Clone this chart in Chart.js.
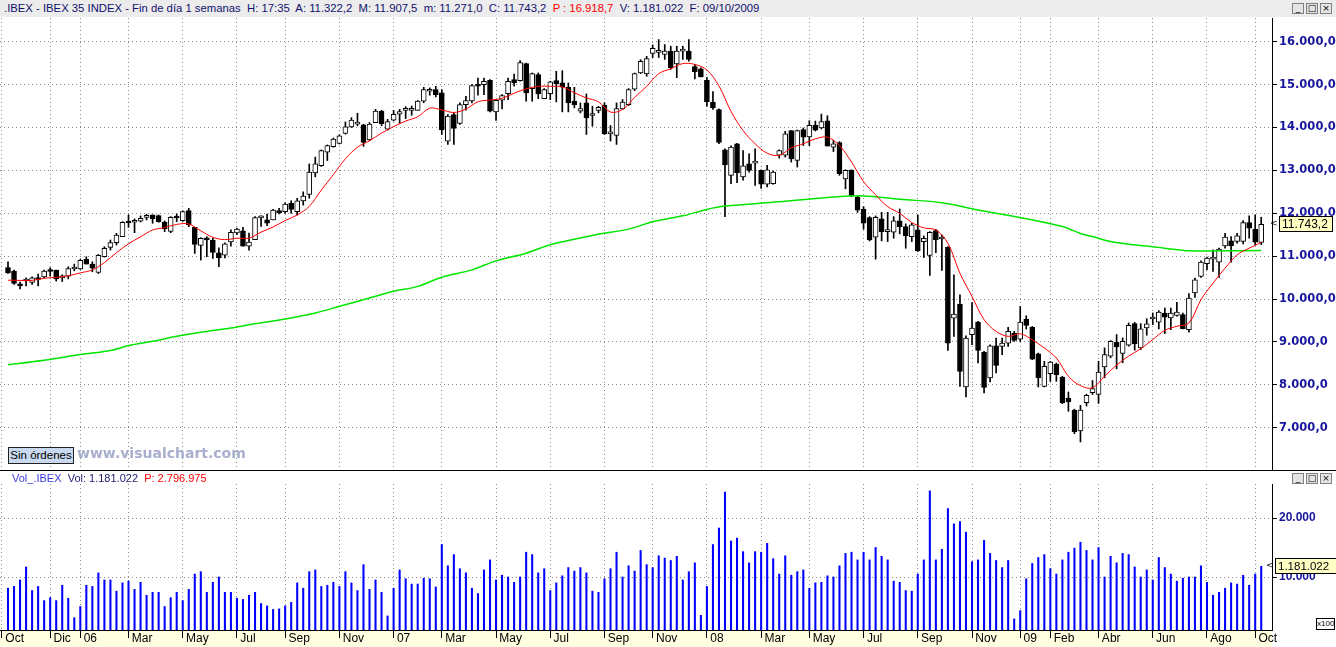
<!DOCTYPE html>
<html>
<head>
<meta charset="utf-8">
<title>IBEX 35 semanal</title>
<script src="https://cdn.jsdelivr.net/npm/chart.js"></script>
<style>
  body { margin: 0; background: #fff; font-family: "Liberation Sans", Arial, sans-serif; }
  #wrap { position: relative; width: 1336px; height: 647px; overflow: hidden; }
  canvas { position: absolute; left: 0; }
  #price { top: 18px; }
  #vol { top: 470px; }
  .txt { position: absolute; white-space: nowrap; font-size: 11px; }
  #head { left: 0; top: 0; width: 1336px; height: 17px; line-height: 17px; background: #ececec; color: #10106e; font-size: 11.3px; }
  #head span { margin-left: 4px; }
  .red { color: #ff0000; }
  .win { position: absolute; right: 4px; font-size: 0; }
  .win i { display: inline-block; width: 10px; height: 9px; margin-left: 2px; border: 1px solid #808080; background: #e4e4e4; font: 9px/9px "DejaVu Sans", sans-serif; font-style: normal; color: #000; text-align: center; }
  #sep { position: absolute; left: 0; top: 470px; width: 1336px; height: 1px; background: #000; }
  #orders { position: absolute; left: 8px; top: 447px; width: 64px; height: 15px; line-height: 15px; border: 1px solid #202020; background: #c9d9ef; font-size: 11.5px; text-align: center; color: #000; white-space: nowrap; }
  #mark { position: absolute; left: 77px; top: 445px; font: bold 14px "DejaVu Sans", sans-serif; color: #a7afcd; }
  #volhead { left: 12px; top: 472px; }
  #x100 { position: absolute; left: 1316px; top: 618px; width: 17px; height: 10px; border: 1px solid #000; background: #fff; font-size: 8px; line-height: 10px; text-align: center; }
</style>
</head>
<body>
<div id="wrap">
  <div id="head" class="txt"><span>.IBEX - IBEX 35 INDEX - Fin de día 1 semanas&nbsp; H: 17:35&nbsp; A: 11.322,2&nbsp; M: 11.907,5&nbsp; m: 11.271,0&nbsp; C: 11.743,2&nbsp; <b class="red" style="font-weight:normal">P : 16.918,7</b>&nbsp; V: 1.181.022&nbsp; F: 09/10/2009</span></div>
  <div class="win" style="top:3px"><i>_</i><i>□</i><i>×</i></div>
  <canvas id="price" width="1336" height="452"></canvas>
  <canvas id="vol" width="1336" height="177"></canvas>
  <div id="sep"></div>
  <div id="orders">Sin órdenes</div>
  <div id="mark">www.visualchart.com</div>
  <div id="volhead" class="txt"><span style="color:#3a3ad6">Vol_.IBEX</span>&nbsp; <span style="color:#1c1c72">Vol: 1.181.022</span>&nbsp; <span class="red">P: 2.796.975</span></div>
  <div class="win" style="top:473px"><i>_</i><i>□</i><i>×</i></div>
  <div id="x100">x100</div>
</div>

<script>
// IBEX 35 weekly candles, Oct 2005 - 09/10/2009
const open = [10736,10650,10330,10420,10386,10503,10518,10674,10674,10495,
  10533,10700,10705,10924,10815,10620,10986,11204,11314,11454,
  11820,11790,11813,11906,11961,11945,11797,11579,11900,11828,
  12062,11672,11251,11400,11376,11077,11023,11330,11540,11590,
  11230,11385,11890,11846,11846,12050,12040,12230,12040,12290,
  12440,12940,13108,13423,13554,13630,13860,14015,14077,14060,
  13710,14115,14385,13962,14170,14308,14400,14400,14400,14615,
  14846,14884,14806,13683,14303,14093,14535,14620,15000,15000,
  15100,14364,14636,14791,15116,15093,15488,14907,15233,14674,
  14790,15093,15039,14938,14613,14380,14574,14280,14396,14519,
  13850,13815,14434,14535,14891,15271,15248,15725,15750,15703,
  15780,15485,15780,15780,15420,15370,15100,14590,14420,13480,
  12885,13618,12846,13155,13170,13000,12676,12692,13355,13355,
  13927,13232,13950,13780,14050,13988,14158,13540,13650,12800,
  13000,12380,12100,11900,11440,11870,11573,11558,11822,11690,
  11457,11612,11340,11015,11597,11400,11208,9556,9882,7950,
  9168,9462,8764,8159,8912,8896,8974,9206,9067,9532,
  9338,8725,7965,8260,8484,8182,7693,7413,6924,7583,
  7815,7776,8420,8668,8993,8730,8924,9427,8862,9327,
  9535,9458,9675,9559,9621,9636,9288,10140,10527,10822,
  10930,10861,11240,11357,11341,11341,11783,11628,11322.2];
const high = [10869,10674,10393,10495,10518,10580,10674,10729,10674,10565,
  10752,10815,10924,10986,10869,11040,11220,11376,11532,11805,
  11961,11870,11938,11977,11961,11961,11820,11922,11984,12055,
  12117,11672,11430,11454,11415,11192,11308,11615,11654,11670,
  11540,11923,11940,11980,12090,12115,12246,12292,12350,12500,
  13150,13310,13477,13592,13754,13830,14130,14230,14330,14077,
  14115,14423,14400,14190,14400,14423,14485,14500,14630,14938,
  14923,14961,14884,14303,14341,14574,14729,15000,15155,15155,
  15116,14651,14768,15155,15248,15558,15504,15271,15271,14907,
  15078,15310,15326,15039,14938,14574,14783,14496,14496,14574,
  14047,14574,14651,14907,15271,15581,15660,15925,16050,15934,
  15895,15895,15895,16050,15471,15394,15162,14840,14436,13500,
  13572,13633,13463,13386,13500,13015,13117,12985,13479,13911,
  13927,13942,13988,14158,14150,14313,14275,13695,13670,13015,
  13015,12405,12155,11922,11938,12023,12023,11922,12100,11752,
  11767,11961,11472,11573,11628,11495,11224,10564,10099,9144,
  9920,9478,8780,8935,9090,9090,9338,9245,9827,9610,
  9362,8741,8547,8547,8508,8198,7833,7433,7520,7780,
  8100,8550,8862,9032,9171,9094,9443,9458,9427,9543,
  9675,9730,9792,9792,9923,9675,10125,10490,10892,10977,
  11147,11187,11535,11458,11535,11830,11938,11961,11907.5];
const low = [10596,10339,10237,10307,10339,10307,10495,10533,10417,10409,
  10471,10658,10690,10815,10635,10596,10978,11142,11259,11454,
  11672,11548,11797,11844,11766,11790,11571,11548,11805,11813,
  11688,11064,10908,10986,10947,10755,10960,11230,11500,11230,
  11140,11385,11692,11710,11846,11985,12000,12000,11960,12190,
  12350,12850,13092,13230,13540,13615,13846,14000,14040,13560,
  13692,14115,14040,13940,14154,14092,14208,14285,14400,14577,
  14754,14713,13838,13605,13605,14070,14403,14574,14752,14768,
  14364,14163,14434,14651,14961,15078,14613,14613,14674,14674,
  14651,14597,14364,14364,14458,14341,13838,14031,14341,13838,
  13683,13605,14420,14512,14860,15256,15194,15632,15632,15587,
  15355,15162,15587,15548,15130,15180,14500,14420,13620,11920,
  12692,12715,12769,12961,12650,12580,12614,12676,13286,13309,
  13193,13078,13580,13580,13918,13965,13565,13440,12885,12570,
  12383,12020,11628,11356,10930,11356,11340,11418,11519,11185,
  11340,11108,10968,10550,11084,10666,8803,9129,7965,7716,
  8935,8508,7810,8066,8275,8702,8896,9012,9012,9300,
  8586,7950,7950,8081,8081,7561,7383,6860,6668,7505,
  7776,7567,8164,8630,8373,8513,8900,8807,8822,9156,
  9404,9303,9195,9287,9598,9303,9225,10040,10505,10683,
  10644,10505,11187,10861,11302,11287,11418,11264,11271.0];
const close = [10612,10362,10307,10425,10495,10456,10650,10643,10471,10541,
  10713,10705,10900,10815,10720,11017,11181,11314,11493,11790,
  11774,11795,11883,11945,11867,11805,11633,11906,11890,12039,
  11727,11275,11415,11380,11087,10960,11285,11554,11630,11230,
  11330,11900,11940,11770,12077,12015,12215,12090,12290,12400,
  12960,13150,13462,13577,13730,13808,14015,14170,14080,13654,
  14077,14385,14092,14140,14308,14370,14408,14410,14615,14885,
  14850,14768,13946,14264,13977,14535,14628,14977,14961,15078,
  14380,14636,14744,15078,15039,15512,14806,15256,14783,14884,
  15062,15016,14938,14574,14535,14442,14225,14326,14470,13853,
  13860,14442,14590,14884,15256,15543,15604,15848,15760,15780,
  15394,15780,15830,15587,15300,15180,14605,14460,13650,13130,
  13541,12946,13108,13000,13175,12676,13015,12961,13463,13850,
  13270,13927,13772,14050,13935,14135,13565,13618,12923,13000,
  12405,12070,11767,11380,11907,11573,11580,11822,11690,11480,
  11728,11123,11418,11558,11379,11405,8974,9650,8314,9090,
  9322,8803,7942,8912,8454,8974,9245,9036,9462,9385,
  8601,8159,8430,8531,8236,7577,7600,6900,7412,7753,
  7915,8295,8706,9017,8885,9017,9388,8954,9303,9420,
  9540,9698,9575,9675,9698,9311,10024,10450,10861,10954,
  10935,11163,11442,11240,11473,11783,11652,11326,11743.2];
// volume in hundreds (axis shows x100)
const volume = [8100,8400,9500,11700,7700,8400,6000,6500,6000,8600,
  6400,3100,5000,8600,8400,10700,9500,9500,7600,9000,
  9300,7900,9100,6900,7400,7400,5000,6500,7400,6000,
  7900,10500,10900,7400,9100,10000,7400,7400,6400,6200,
  6900,7400,5500,5100,4500,4600,5100,5700,9000,8100,
  10900,11200,8400,8600,9100,8400,10900,9000,7700,12100,
  7900,9500,7400,3400,8100,11200,9700,8800,8800,9800,
  9700,8300,15500,11900,13800,11400,10700,8100,7200,11200,
  12900,9500,10300,10000,9100,10000,14200,13800,10700,11400,
  7700,9000,10200,11600,11000,11600,10700,7600,7400,9700,
  11400,14200,10000,11900,11000,14500,12100,11600,13600,13200,
  12800,13500,9500,10900,12400,3500,8400,15500,18300,24400,
  16100,16600,14300,12400,14300,14200,15700,13100,10500,13600,
  10300,10900,11200,8100,9000,9100,10200,10000,11900,14000,
  14200,12900,14200,12900,15000,13500,12900,9300,9100,7700,
  7600,10500,12900,24600,12900,14700,21600,19000,19400,17600,
  12600,12900,16200,14000,12800,11600,12800,2900,4300,9700,
  12300,13300,13800,11400,10500,12900,14200,14900,15900,14500,
  12900,15000,10000,13500,12400,14000,13800,11700,10000,11200,
  9500,13300,11600,10500,9300,9800,10000,10000,11900,9100,
  6900,7400,8100,9000,8800,10300,8600,10500,11810.22];

// short average (red) and long average (green), read at these candle numbers
const fastAt = [1,3,5,7,9,11,13,15,17,19,21,23,25,27,29,31,33,35,37,39,41,43,45,47,49,
  51,53,55,57,59,61,63,65,67,69,71,73,75,77,79,81,83,85,87,89,91,93,95,97,99,
  101,103,105,107,109,111,113,115,117,119,121,123,125,127,129,131,133,135,137,139,
  141,143,145,147,149,151,153,155,157,159,161,163,165,167,169,171,173,175,177,179,
  181,183,185,187,189,191,193,195,197,199,201,203,205,207,209];
const fastMa = [10440,10435,10435,10485,10505,10543,10610,10680,10850,11080,11290,11450,11610,11667,11740,11750,11590,11440,11385,11420,11420,11560,11680,11830,11960,
  12160,12540,12900,13270,13540,13690,13870,14020,14150,14250,14450,14410,14350,14430,14600,14640,14680,14800,14900,14960,14960,14945,14810,14690,14600,
  14360,14420,14700,14960,15255,15370,15490,15470,15340,14970,14375,13930,13620,13400,13350,13525,13620,13735,13775,13580,
  13195,12740,12430,12155,12000,11785,11660,11610,11300,10600,10060,9520,9245,9130,9190,9050,8860,8625,8200,7980,
  7930,8200,8460,8670,8840,9055,9270,9365,9440,9985,10370,10720,11030,11185,11318];
const slowAt = [1,7,13,18,21,25,29,33,38,42,47,52,56,61,65,69,73,78,82,87,91,95,99,104,108,
  113,117,120,129,137,143,149,156,162,169,176,179,181,184,188,193,197,202,209];
const slowMa = [8470,8575,8705,8800,8915,9015,9130,9225,9325,9425,9535,9675,9830,10025,10180,10295,10510,10680,10890,11070,11265,11395,11510,11630,11800,
  11940,12090,12167,12267,12367,12405,12326,12248,12078,11899,11690,11530,11457,11341,11264,11186,11124,11124,11130];

// month ticks on the time axis (candle number of first week of the month)
const monthAt = [0,8,13,21,30,39,47,56,65,73,82,91,100,108,117,126,134,143,152,161,169,174,182,191,200,208];
const monthLabels = ['Oct','Dic','06','Mar','May','Jul','Sep','Nov','07','Mar','May','Jul','Sep','Nov',
  '08','Mar','May','Jul','Sep','Nov','09','Feb','Abr','Jun','Ago','Oct'];
const priceTicks = [7000,8000,9000,10000,11000,12000,13000,14000,15000,16000];
const volumeTicks = [10000,20000];

const week = close.map((c, i) => i + 1);
const xMin = -0.328, xMax = 210.79;
const last = close.length - 1;

function thousands(n) {
  return String(Math.trunc(n)).replace(/\B(?=(\d{3})+(?!\d))/g, '.');
}
function priceLabel(v) {
  const r = Math.round(v * 10);
  return thousands(Math.floor(r / 10)) + ',' + (r % 10);
}

// yellow box with the last value, on the right axis
const lastTag = {
  id: 'lastTag',
  afterDraw(chart, args, o) {
    if (!o.text) return;
    const ctx = chart.ctx;
    const y = Math.round(chart.scales.y.getPixelForValue(o.value));
    const x = chart.chartArea.right + o.gap;
    ctx.save();
    ctx.fillStyle = '#ffffc4';
    ctx.fillRect(x, y - 8, o.width, 16);
    ctx.strokeStyle = '#000';
    ctx.lineWidth = 1;
    ctx.strokeRect(x + 0.5, y - 7.5, o.width - 1, 15);
    ctx.fillStyle = '#000';
    ctx.font = o.font;
    ctx.textBaseline = 'middle';
    ctx.fillText(o.text, x + 3, y + 1);
    ctx.font = '9px "DejaVu Sans"';
    ctx.fillText('<', x - 9, y);
    ctx.restore();
  }
};

// light yellow band under the time axis
const timeBand = {
  id: 'timeBand',
  beforeDraw(chart, args, o) {
    if (!o.color) return;
    const ctx = chart.ctx, a = chart.chartArea;
    ctx.save();
    ctx.fillStyle = o.color;
    ctx.fillRect(0, a.bottom, a.right, chart.height - a.bottom);
    ctx.restore();
  }
};

const gridGrey = '#8a8a8a';
const axisBlue = '#16169c';

new Chart(document.getElementById('price'), {
  type: 'bar',
  plugins: [lastTag],
  data: {
    datasets: [
      {
        type: 'line', label: 'Media corta',
        data: fastAt.map((n, i) => ({ x: n, y: fastMa[i] })),
        borderColor: '#ff0000', borderWidth: 1, pointRadius: 0, tension: 0.35, clip: 0, order: 0
      },
      {
        type: 'line', label: 'Media larga',
        data: slowAt.map((n, i) => ({ x: n, y: slowMa[i] })),
        borderColor: '#00e600', borderWidth: 1.5, pointRadius: 0, tension: 0.35, clip: 0, order: 0
      },
      {
        label: 'Cuerpo',
        data: week.map((n, i) => ({ x: n, y: [open[i], close[i]] })),
        backgroundColor: week.map((n, i) => close[i] >= open[i] ? '#ffffff' : '#000000'),
        borderColor: '#000', borderWidth: 1, borderSkipped: false,
        barThickness: 5, minBarLength: 2, grouped: false, clip: 0, order: 1
      },
      {
        label: 'Mecha',
        data: week.map((n, i) => ({ x: n, y: [low[i], high[i]] })),
        backgroundColor: '#000', barThickness: 1, grouped: false, clip: 0, order: 2
      }
    ]
  },
  options: {
    responsive: false, animation: false,
    layout: { padding: 0 },
    plugins: {
      legend: { display: false }, tooltip: { enabled: false },
      lastTag: { value: close[last], text: priceLabel(close[last]), gap: 7, width: 54, font: '12px "Liberation Sans"' }
    },
    scales: {
      x: {
        type: 'linear', min: xMin, max: xMax, offset: false,
        afterBuildTicks: s => { s.ticks = monthAt.map(v => ({ value: v })); },
        afterFit: s => { s.height = 0; s.paddingLeft = 0; s.paddingRight = 0; },
        ticks: { display: false },
        grid: { color: gridGrey, drawTicks: false, offset: false },
        border: { display: false, dash: [1, 3] }
      },
      y: {
        position: 'right', min: 6014, max: 16553,
        afterBuildTicks: s => { s.ticks = priceTicks.map(v => ({ value: v })); },
        afterFit: s => { s.width = 64; s.paddingTop = 0; s.paddingBottom = 0; },
        ticks: { callback: v => priceLabel(v), color: axisBlue, font: { family: 'DejaVu Sans', size: 11.5, weight: 'bold' }, padding: 2 },
        grid: { color: gridGrey, tickLength: 5, tickColor: '#000', tickWidth: 1 },
        border: { display: true, color: '#000', dash: [1, 3] }
      }
    }
  }
});

new Chart(document.getElementById('vol'), {
  type: 'bar',
  plugins: [lastTag, timeBand],
  data: {
    datasets: [{
      label: 'Vol',
      data: week.map((n, i) => ({ x: n, y: volume[i] })),
      backgroundColor: '#0000ff', barThickness: 1.4, grouped: false, clip: 0
    }]
  },
  options: {
    responsive: false, animation: false,
    layout: { padding: { top: 14 } },
    plugins: {
      legend: { display: false }, tooltip: { enabled: false },
      lastTag: { value: volume[last], text: thousands(Math.round(volume[last] * 100)), gap: 3, width: 62, font: '11.5px "Liberation Sans"' },
      timeBand: { color: '#ffffe1' }
    },
    scales: {
      x: {
        type: 'linear', min: xMin, max: xMax, offset: false,
        afterBuildTicks: s => { s.ticks = monthAt.map(v => ({ value: v })); },
        afterFit: s => { s.height = 17; s.paddingLeft = 0; s.paddingRight = 0; },
        ticks: {
          callback: (v, i) => ' ' + monthLabels[i], align: 'start', autoSkip: false, maxRotation: 0,
          color: '#000', font: { family: 'Liberation Sans', size: 12 }, padding: -7
        },
        grid: { color: gridGrey, tickLength: 8, tickColor: '#000', offset: false },
        border: { display: true, color: '#000', dash: [1, 3] }
      },
      y: {
        position: 'right', min: 1017, max: 25763,
        afterBuildTicks: s => { s.ticks = volumeTicks.map(v => ({ value: v })); },
        afterFit: s => { s.width = 64; s.paddingTop = 0; s.paddingBottom = 0; },
        ticks: { callback: v => thousands(v), color: axisBlue, font: { family: 'Liberation Sans', size: 12, weight: 'bold' }, padding: 2 },
        grid: { color: gridGrey, tickLength: 5, tickColor: '#000' },
        border: { display: true, color: '#000', dash: [1, 3] }
      }
    }
  }
});
</script>
</body>
</html>
